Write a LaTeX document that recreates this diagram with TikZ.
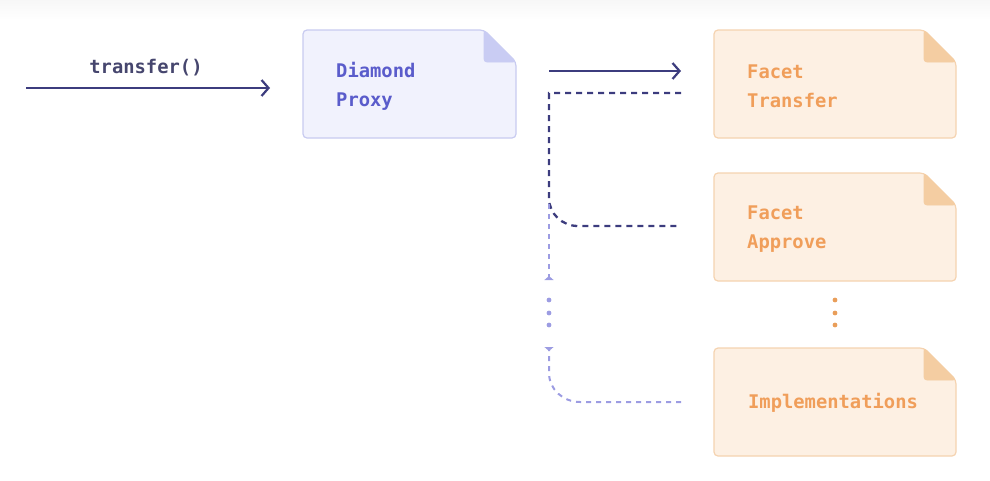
\documentclass[tikz,border=0pt]{standalone}
\usepackage{fontspec}
\setmonofont{DejaVu Sans Mono}
\usetikzlibrary{arrows.meta}
\definecolor{navy}{HTML}{3C3C7E}
\definecolor{labelc}{HTML}{46466E}
\definecolor{pfill}{HTML}{F1F2FD}
\definecolor{pborder}{HTML}{C8CBF0}
\definecolor{pfold}{HTML}{C9CCF3}
\definecolor{ptext}{HTML}{5A5CCB}
\definecolor{ffill}{HTML}{FDF0E3}
\definecolor{fborder}{HTML}{F5D3B0}
\definecolor{ffold}{HTML}{F4CDA2}
\definecolor{ftext}{HTML}{F09E5A}
\definecolor{lav}{HTML}{9C9CE2}
\definecolor{odot}{HTML}{E99E5A}
\newcommand{\foldbox}[7]{%
  \filldraw[fill=#5, draw=#6, line width=1.2pt, rounded corners=4]
    (#1,#2) -- ({#3-32},#2) -- (#3,{#2+32}) -- (#3,#4) -- (#1,#4) -- cycle;
  \filldraw[fill=#7, draw=#7, line width=0.8pt, rounded corners=3]
    ({#3-32},#2) -- ({#3-32},{#2+32}) -- (#3,{#2+32}) -- cycle;
}
\tikzset{
  txt/.style={font=\fontsize{18.8}{29}\selectfont\ttfamily\bfseries, inner sep=0pt, align=left},
  solidarrow/.style={draw=navy, line width=2.2pt, -{Straight Barb[length=7pt,width=16pt,line width=2.2pt]}},
  navydash/.style={draw=navy, line width=2.3pt, dash pattern=on 6pt off 5pt},
  lavdash/.style={draw=lav, line width=2pt, dash pattern=on 5pt off 5pt},
  lavtip/.style={-{Triangle[reversed,length=4pt,width=9pt,fill=lav]}},
}
\begin{document}
\begin{tikzpicture}[x=1pt,y=-1pt]
\useasboundingbox (0,0) rectangle (990,480);
\shade[top color=black!3, bottom color=white] (0,0) rectangle (990,20);

% boxes
\foldbox{303}{30}{516}{138}{pfill}{pborder}{pfold}
\foldbox{714}{30}{956}{138}{ffill}{fborder}{ffold}
\foldbox{714}{173}{956}{281}{ffill}{fborder}{ffold}
\foldbox{714}{348}{956}{456}{ffill}{fborder}{ffold}

\node[txt, text=ptext, anchor=west] (proxy) at (336,86) {Diamond\\Proxy};
\node[txt, text=ftext, anchor=west] (ftransfer) at (747,86) {Facet\\Transfer};
\node[txt, text=ftext, anchor=west] (fapprove) at (747,229) {Facet\\Approve};
\node[txt, text=ftext] (impl) at (833,403) {Implementations};

\node[txt, text=labelc] (lbl) at (146,68) {transfer()};

% coordinates
\coordinate (inS) at (26,88);
\coordinate (inE) at (270,88);
\coordinate (oS) at (549,71);
\coordinate (oE) at (681,71);
\coordinate (r1) at (681,93);
\coordinate (r2) at (681,226);
\coordinate (r3) at (681,402);
\coordinate (uEnd) at (549,280);
\coordinate (dEnd) at (549,347);

\draw[solidarrow] (inS) -- (inE);
\draw[solidarrow] (oS) -- (oE);

% navy dashed return lines
\draw[navydash] (r1) -- (549,93) -- (549,198) to[out=-90,in=180] (578,226) -- (r2);
% lavender continuation
\draw[lavdash, lavtip] (549,204) -- (uEnd);
\draw[lavdash, lavtip] (r3) -- (580,402) to[out=180,in=-90] (549,373) -- (dEnd);

% ellipses
\foreach \yy in {300,313,325} {
  \fill[lav] (549,\yy) circle (2.4);
  \fill[odot] (835,\yy) circle (2.4);
}
\end{tikzpicture}
\end{document}
